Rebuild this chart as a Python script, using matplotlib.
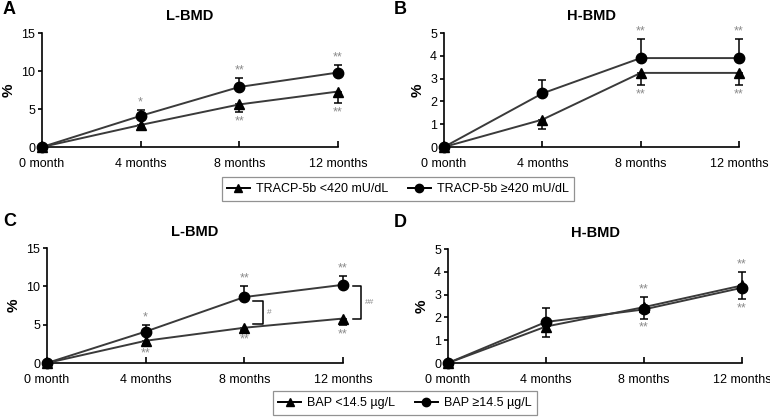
import matplotlib
matplotlib.use('Agg')
import matplotlib.pyplot as plt
from matplotlib.lines import Line2D

plt.rcParams['font.family'] = ['Liberation Sans', 'DejaVu Sans']

months = ['0 month', '4 months', '8 months', '12 months']

# panel A: TRACP-5b, L-BMD
a_low = [0, 2.9, 5.6, 7.3]
a_low_err = [0, 0.4, 1.0, 1.5]
a_high = [0, 4.1, 7.9, 9.8]
a_high_err = [0, 0.8, 1.2, 1.0]
a_star_high = ['', '*', '**', '**']
a_star_low = ['', '', '**', '**']

# panel B: TRACP-5b, H-BMD
b_low = [0, 1.2, 3.25, 3.25]
b_low_err = [0, 0.4, 0.55, 0.55]
b_high = [0, 2.35, 3.9, 3.9]
b_high_err = [0, 0.6, 0.85, 0.85]
b_star_high = ['', '', '**', '**']
b_star_low = ['', '', '**', '**']

# panel C: BAP, L-BMD
c_low = [0, 2.9, 4.6, 5.8]
c_low_err = [0, 0.4, 0.3, 0.9]
c_high = [0, 4.1, 8.6, 10.2]
c_high_err = [0, 0.9, 1.4, 1.2]
c_star_high = ['', '*', '**', '**']
c_star_low = ['', '**', '**', '**']

# panel D: BAP, H-BMD
d_low = [0, 1.6, 2.45, 3.4]
d_low_err = [0, 0.45, 0.5, 0.6]
d_high = [0, 1.8, 2.35, 3.3]
d_high_err = [0, 0.6, 0.55, 0.7]
d_star_high = ['', '', '**', '**']
d_star_low = ['', '', '**', '**']

fig = plt.figure(figsize=(7.7, 4.18), dpi=100)

def px(x0, y0, x1, y1):
    return [x0 / 770, 1 - y1 / 418, (x1 - x0) / 770, (y1 - y0) / 418]

line_c = '#3a3a3a'
star_c = '#8a8a8a'


def panel(rect, letter, lpos, title, low, low_err, high, high_err, st_hi, st_lo, ymax, step, off):
    ax = fig.add_axes(rect)
    x = list(range(len(months)))
    zeros = [0] * len(x)
    ax.errorbar(x, low, yerr=[low_err, zeros], color=line_c, lw=1.4, marker='^', ms=7,
                mfc='black', mec='black', ecolor='black', elinewidth=1.1, capsize=3,
                capthick=1.1, clip_on=False, zorder=3)
    ax.errorbar(x, high, yerr=[zeros, high_err], color=line_c, lw=1.4, marker='o', ms=7.5,
                mfc='black', mec='black', ecolor='black', elinewidth=1.1, capsize=3,
                capthick=1.1, clip_on=False, zorder=3)
    for i in x:
        if st_hi[i]:
            ax.text(i, high[i] + high_err[i] + off * 0.2, st_hi[i], ha='center', va='bottom',
                    color=star_c, fontsize=9)
        if st_lo[i]:
            ax.text(i, low[i] - low_err[i] - off * 0.45, st_lo[i], ha='center', va='top',
                    color=star_c, fontsize=9)
    ax.set_xlim(0, 3)
    ax.set_ylim(0, ymax)
    ax.set_yticks([v * step for v in range(int(ymax / step) + 1)])
    ax.set_xticks(x)
    ax.set_xticklabels(months)
    for s in ['top', 'right']:
        ax.spines[s].set_visible(False)
    for s in ['left', 'bottom']:
        ax.spines[s].set_linewidth(1.2)
    ax.tick_params(axis='x', direction='in', length=4, width=1.2, labelsize=9, pad=8)
    ax.tick_params(axis='y', direction='out', length=3, width=1.2, labelsize=9, pad=2)
    ax.set_ylabel('%', fontsize=11, fontweight='bold', labelpad=4)
    ax.set_title(title, fontsize=10.5, fontweight='bold', pad=9)
    fig.text(lpos[0] / 770, 1 - lpos[1] / 418, letter, fontsize=13, fontweight='bold',
             ha='left', va='center')
    return ax


axA = panel(px(42, 33, 338, 147), 'A', (3, 10), 'L-BMD', a_low, a_low_err, a_high, a_high_err,
            a_star_high, a_star_low, 15, 5, 1.0)
axB = panel(px(444, 33, 739, 147), 'B', (394, 9), 'H-BMD', b_low, b_low_err, b_high, b_high_err,
            b_star_high, b_star_low, 5, 1, 0.33)
axC = panel(px(47, 248, 343, 363), 'C', (3, 222), 'L-BMD', c_low, c_low_err, c_high, c_high_err,
            c_star_high, c_star_low, 15, 5, 1.0)
axD = panel(px(448, 249, 742, 363), 'D', (394, 223), 'H-BMD', d_low, d_low_err, d_high, d_high_err,
            d_star_high, d_star_low, 5, 1, 0.33)

# significance brackets between groups in panel C
brackets = [(2.09, 2.19, 5.1, 8.1, '#'), (3.10, 3.18, 5.8, 10.0, '##')]
for x0, x1, y0, y1, lab in brackets:
    axC.plot([x0, x1, x1, x0], [y0, y0, y1, y1], color='black', lw=1.1, clip_on=False)
    axC.text(x1 + 0.04, (y0 + y1) / 2, lab, fontsize=6, color=star_c, va='center', ha='left')

def handles():
    h1 = Line2D([], [], color='black', lw=1.4, marker='^', ms=6)
    h2 = Line2D([], [], color='black', lw=1.4, marker='o', ms=6)
    return [h1, h2]

for labels, cx, cy in [(['TRACP-5b <420 mU/dL', 'TRACP-5b \u2265420 mU/dL'], 398 / 770, 1 - 189 / 418),
                       (['BAP <14.5 \u00b5g/L', 'BAP \u226514.5 \u00b5g/L'], 405 / 770, 1 - 403 / 418)]:
    leg = fig.legend(handles(), labels, loc='center', bbox_to_anchor=(cx, cy), ncol=2,
                     fontsize=9, frameon=True, fancybox=False, handlelength=1.8,
                     handletextpad=0.5, columnspacing=1.6, borderpad=0.45)
    leg.get_frame().set_edgecolor('#777777')
    leg.get_frame().set_linewidth(0.9)

fig.savefig('out.png', dpi=100)
